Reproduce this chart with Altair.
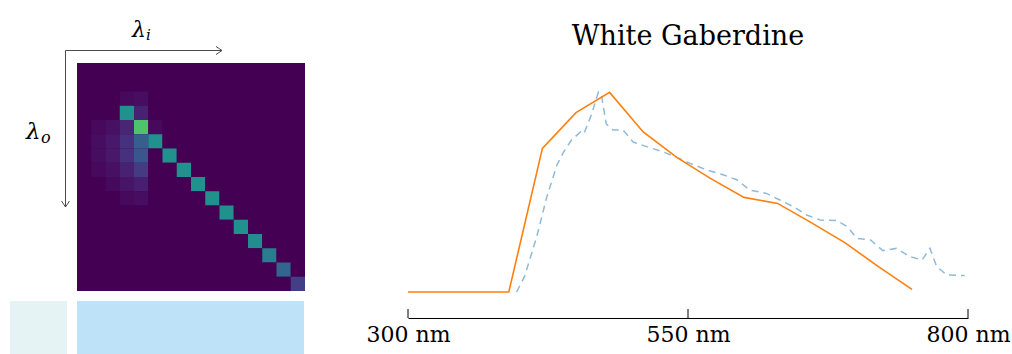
import altair as alt
import pandas as pd

# ---------------- data ----------------
# 16x16 reradiation matrix (rows = output wavelength, cols = input wavelength)
heat_rows = [
    [0, 0, 0, 0, 0, 0, 0, 0, 0, 0, 0, 0, 0, 0, 0, 0],
    [0, 0, 0, 0, 0, 0, 0, 0, 0, 0, 0, 0, 0, 0, 0, 0],
    [0, 0, 0, 0.02, 0.03, 0, 0, 0, 0, 0, 0, 0, 0, 0, 0, 0],
    [0, 0, 0, 0.50, 0.09, 0, 0, 0, 0, 0, 0, 0, 0, 0, 0, 0],
    [0, 0.02, 0.04, 0.10, 0.72, 0.02, 0, 0, 0, 0, 0, 0, 0, 0, 0, 0],
    [0, 0.03, 0.06, 0.14, 0.30, 0.50, 0, 0, 0, 0, 0, 0, 0, 0, 0, 0],
    [0, 0.03, 0.06, 0.14, 0.27, 0, 0.50, 0, 0, 0, 0, 0, 0, 0, 0, 0],
    [0, 0.02, 0.04, 0.09, 0.17, 0, 0, 0.50, 0, 0, 0, 0, 0, 0, 0, 0],
    [0, 0, 0.02, 0.05, 0.08, 0, 0, 0, 0.50, 0, 0, 0, 0, 0, 0, 0],
    [0, 0, 0, 0.02, 0.03, 0, 0, 0, 0, 0.50, 0, 0, 0, 0, 0, 0],
    [0, 0, 0, 0, 0, 0, 0, 0, 0, 0, 0.50, 0, 0, 0, 0, 0],
    [0, 0, 0, 0, 0, 0, 0, 0, 0, 0, 0, 0.50, 0, 0, 0, 0],
    [0, 0, 0, 0, 0, 0, 0, 0, 0, 0, 0, 0, 0.48, 0, 0, 0],
    [0, 0, 0, 0, 0, 0, 0, 0, 0, 0, 0, 0, 0, 0.42, 0, 0],
    [0, 0, 0, 0, 0, 0, 0, 0, 0, 0, 0, 0, 0, 0, 0.33, 0],
    [0, 0, 0, 0, 0, 0, 0, 0, 0, 0, 0, 0, 0, 0, 0, 0.18],
]

# orange solid series (30 nm sampling)
orange_nm = [300, 330, 360, 390, 420, 450, 480, 510, 540, 570, 600, 630, 660, 690, 720, 750]
orange_val = [0, 0, 0, 0, 0.718, 0.897, 0.998, 0.80, 0.673, 0.568, 0.473, 0.443, 0.347, 0.247, 0.127, 0.013]

# blue dashed series (measured spectrum)
blue_nm = [397, 404, 415, 424, 433, 439, 446, 454, 457, 464, 470, 473, 477, 483, 492, 501,
           513, 528, 540, 552, 567, 582, 594, 605, 620, 632, 644, 656, 668, 683, 692, 701,
           713, 724, 736, 748, 759, 766, 772, 781, 797]
blue_val = [0.0, 0.077, 0.277, 0.477, 0.635, 0.70, 0.76, 0.80, 0.79, 0.89, 1.0, 0.975, 0.84, 0.81, 0.81, 0.75,
            0.727, 0.70, 0.673, 0.643, 0.61, 0.585, 0.56, 0.51, 0.493, 0.46, 0.427, 0.385, 0.36, 0.357, 0.327, 0.268,
            0.26, 0.207, 0.218, 0.177, 0.16, 0.218, 0.127, 0.085, 0.082]

tick_nm = [300, 550, 800]
title_text = "White Gaberdine"

# ---------------- tables ----------------
idx = list(range(16))
heat_df = pd.DataFrame([{"col": c, "row": r, "v": heat_rows[r][c]} for r in idx for c in idx])
orange_df = pd.DataFrame({"nm": orange_nm, "v": orange_val})
blue_df = pd.DataFrame({"nm": blue_nm, "v": blue_val})
tick_df = pd.DataFrame({"nm": tick_nm})
one = alt.Data(values=[{"k": 0}])

# ---------------- left panel ----------------
vscale = alt.Scale(scheme="viridis", domain=[0, 1])
heat_bg = alt.Chart(one).mark_rect(color="#440154").encode(
    x=alt.value(77), x2=alt.value(305), y=alt.value(63), y2=alt.value(291))
heat = alt.Chart(heat_df).mark_rect(strokeWidth=0).encode(
    x=alt.X("col:O", axis=None,
            scale=alt.Scale(domain=idx, range=[77, 305], paddingInner=0, paddingOuter=0)),
    y=alt.Y("row:O", axis=None,
            scale=alt.Scale(domain=idx, range=[63, 291], paddingInner=0, paddingOuter=0)),
    color=alt.Color("v:Q", scale=vscale, legend=None),
)

sw_left = alt.Chart(one).mark_rect(color="#e6f3f5").encode(
    x=alt.value(10), x2=alt.value(67), y=alt.value(301), y2=alt.value(354))
sw_right = alt.Chart(one).mark_rect(color="#bee2f8").encode(
    x=alt.value(77), x2=alt.value(304), y=alt.value(301), y2=alt.value(354))

ac = "#4d4d4d"
def seg(x1, y1, x2, y2):
    return alt.Chart(one).mark_rule(color=ac, strokeWidth=1).encode(
        x=alt.value(x1), y=alt.value(y1), x2=alt.value(x2), y2=alt.value(y2))

arrows = [
    seg(65.5, 50.5, 222, 50.5), seg(216, 46.5, 222, 50.5), seg(216, 54.5, 222, 50.5),
    seg(65.5, 50.5, 65.5, 207), seg(61.5, 201, 65.5, 207), seg(69.5, 201, 65.5, 207),
]

def txt(t, x, y, size, italic=True, font="DejaVu Serif"):
    kw = dict(text=t, font=font, fontSize=size, align="left", baseline="alphabetic", color="black")
    if italic:
        kw["fontStyle"] = "italic"
    return alt.Chart(one).mark_text(**kw).encode(x=alt.value(x), y=alt.value(y))

labels = [
    txt("λ", 132, 37, 22), txt("i", 146, 40, 15),
    txt("λ", 26, 139, 23), txt("o", 41, 143, 16),
]

# ---------------- right panel ----------------
xs = alt.Scale(domain=[300, 800], range=[408, 968], nice=False, zero=False)
ys = alt.Scale(domain=[0, 1], range=[292, 92], nice=False, zero=False)
xaxis = alt.Axis(values=tick_nm, labelExpr="datum.value + ' nm'", title=None, grid=False,
                 ticks=False, domain=True, domainColor="black", domainWidth=1, offset=-36,
                 labelFont="DejaVu Serif", labelFontSize=22, labelColor="black",
                 labelPadding=6, labelFlush=False, labelOverlap=False, labelBound=False)

orange = alt.Chart(orange_df).mark_line(color="#ff7f0e", strokeWidth=1.6).encode(
    x=alt.X("nm:Q", scale=xs, axis=xaxis), y=alt.Y("v:Q", scale=ys, axis=None))
blue = alt.Chart(blue_df).mark_line(color="#8fbbd9", strokeWidth=1.5, strokeDash=[7, 5]).encode(
    x=alt.X("nm:Q", scale=xs, axis=xaxis), y=alt.Y("v:Q", scale=ys, axis=None))
ticks = alt.Chart(tick_df).mark_rule(color="black", strokeWidth=1).encode(
    x=alt.X("nm:Q", scale=xs, axis=xaxis), y=alt.value(309), y2=alt.value(318))

right = alt.layer(blue, orange, ticks)

title = alt.Chart(one).mark_text(text=title_text, font="DejaVu Serif", fontSize=27,
                                 align="center", baseline="alphabetic", color="black").encode(
    x=alt.value(688), y=alt.value(45))

chart = alt.layer(
    heat_bg, heat, sw_left, sw_right, *arrows, *labels, right, title
).resolve_scale(x="independent", y="independent").properties(
    width=1012, height=354, padding=0, autosize=alt.AutoSizeParams(type="none")
).configure_view(stroke=None)

chart.save("out.html", embed_options={"renderer": "svg", "actions": False})
